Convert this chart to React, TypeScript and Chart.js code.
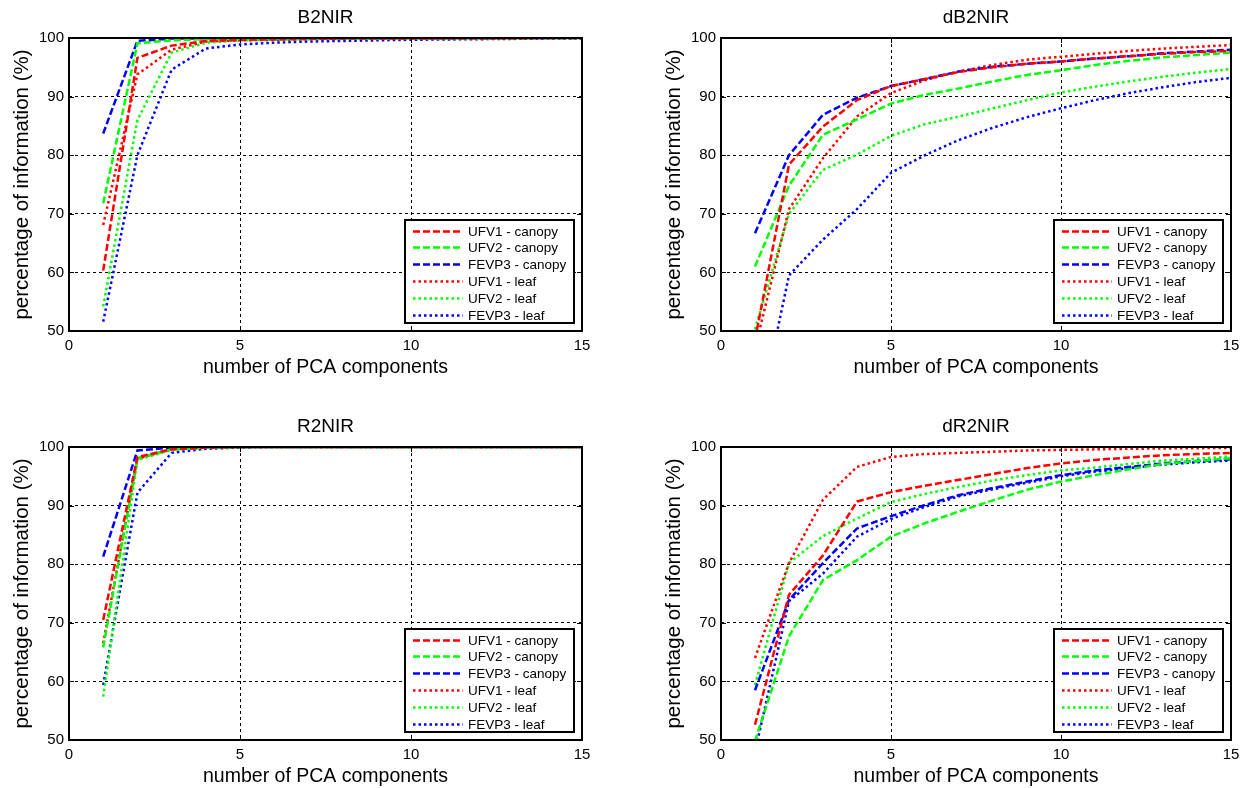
import React, { useEffect, useRef } from 'react';
import { Chart, registerables } from 'chart.js';

Chart.register(...registerables);

// ---------- data ----------
const pcaComponents = [1, 2, 3, 4, 5, 6, 7, 8, 9, 10, 11, 12, 13, 14, 15];
const seriesNames = ['UFV1 - canopy', 'UFV2 - canopy', 'FEVP3 - canopy', 'UFV1 - leaf', 'UFV2 - leaf', 'FEVP3 - leaf'];
const seriesColors = ['#ff0000', '#00ff00', '#0000ff', '#ff0000', '#00ff00', '#0000ff'];
const seriesDashed = [true, true, true, false, false, false];
const panelTitles = ['B2NIR', 'dB2NIR', 'R2NIR', 'dR2NIR'];
const xTickValues = [0, 5, 10, 15];
const yTickValues = [50, 60, 70, 80, 90, 100];
const xAxisLabel = 'number of PCA components';
const yAxisLabel = 'percentage of information (%)';

// B2NIR
const b2nirUfv1Canopy = [60.3, 96.6, 98.7, 99.5, 99.7, 99.8, 99.85, 99.9, 99.9, 99.9, 99.95, 99.95, 99.95, 100, 100];
const b2nirUfv2Canopy = [71.8, 99.1, 99.6, 99.8, 99.9, 99.9, 99.95, 99.95, 99.95, 100, 100, 100, 100, 100, 100];
const b2nirFevp3Canopy = [83.7, 99.5, 99.9, 99.95, 100, 100, 100, 100, 100, 100, 100, 100, 100, 100, 100];
const b2nirUfv1Leaf = [68.1, 93.8, 98.0, 99.4, 99.6, 99.7, 99.8, 99.85, 99.9, 99.9, 99.9, 99.95, 99.95, 100, 100];
const b2nirUfv2Leaf = [54.2, 86.0, 97.5, 99.2, 99.6, 99.7, 99.8, 99.85, 99.9, 99.9, 99.9, 99.95, 99.95, 100, 100];
const b2nirFevp3Leaf = [51.6, 80.0, 94.6, 98.2, 98.9, 99.2, 99.4, 99.5, 99.6, 99.7, 99.75, 99.8, 99.85, 99.9, 99.9];

// dB2NIR
const db2nirUfv1Canopy = [48.5, 78.4, 84.9, 89.4, 91.8, 93.0, 94.2, 95.0, 95.6, 96.0, 96.5, 96.9, 97.3, 97.6, 97.8];
const db2nirUfv2Canopy = [61.0, 74.8, 83.5, 86.1, 88.8, 90.3, 91.4, 92.6, 93.7, 94.5, 95.4, 96.1, 96.7, 97.1, 97.5];
const db2nirFevp3Canopy = [66.7, 80.0, 86.9, 89.8, 91.8, 93.0, 94.3, 95.1, 95.6, 96.0, 96.5, 96.9, 97.4, 97.7, 98.0];
const db2nirUfv1Leaf = [47.0, 70.8, 79.5, 86.6, 90.6, 92.8, 94.3, 95.4, 96.3, 96.8, 97.3, 97.8, 98.2, 98.5, 98.8];
const db2nirUfv2Leaf = [50.3, 70.0, 77.5, 80.1, 83.3, 85.3, 86.6, 88.0, 89.4, 90.7, 91.7, 92.6, 93.4, 94.1, 94.7];
const db2nirFevp3Leaf = [32.0, 59.5, 65.6, 70.8, 77.0, 80.0, 82.6, 84.7, 86.5, 88.0, 89.4, 90.6, 91.6, 92.5, 93.2];

// R2NIR
const r2nirUfv1Canopy = [70.5, 98.3, 99.6, 99.9, 100, 100, 100, 100, 100, 100, 100, 100, 100, 100, 100];
const r2nirUfv2Canopy = [65.8, 98.1, 99.6, 99.9, 100, 100, 100, 100, 100, 100, 100, 100, 100, 100, 100];
const r2nirFevp3Canopy = [81.3, 99.4, 99.9, 100, 100, 100, 100, 100, 100, 100, 100, 100, 100, 100, 100];
const r2nirUfv1Leaf = [66.5, 98.0, 99.6, 99.9, 100, 100, 100, 100, 100, 100, 100, 100, 100, 100, 100];
const r2nirUfv2Leaf = [57.4, 97.8, 99.5, 99.9, 100, 100, 100, 100, 100, 100, 100, 100, 100, 100, 100];
const r2nirFevp3Leaf = [59.4, 92.2, 99.0, 99.7, 99.9, 100, 100, 100, 100, 100, 100, 100, 100, 100, 100];

// dR2NIR
const dr2nirUfv1Canopy = [52.6, 74.8, 81.5, 90.7, 92.3, 93.4, 94.4, 95.4, 96.4, 97.2, 97.8, 98.2, 98.6, 98.8, 99.0];
const dr2nirUfv2Canopy = [49.8, 67.7, 77.3, 80.7, 84.7, 87.0, 89.0, 90.9, 92.7, 94.1, 95.2, 96.2, 97.1, 97.6, 98.1];
const dr2nirFevp3Canopy = [58.5, 73.9, 80.2, 86.1, 88.2, 90.1, 91.8, 93.0, 94.1, 95.2, 96.0, 96.6, 97.2, 97.6, 97.9];
const dr2nirUfv1Leaf = [64.0, 80.2, 91.0, 96.6, 98.3, 98.8, 99.0, 99.2, 99.4, 99.5, 99.6, 99.7, 99.75, 99.8, 99.85];
const dr2nirUfv2Leaf = [59.4, 80.2, 84.8, 87.8, 90.6, 92.0, 93.2, 94.3, 95.2, 96.0, 96.5, 97.1, 97.7, 98.0, 98.4];
const dr2nirFevp3Leaf = [48.0, 73.7, 78.4, 84.7, 87.7, 89.8, 91.6, 92.8, 93.9, 95.0, 95.8, 96.4, 97.0, 97.4, 97.7];

const panelSeries = [
  [b2nirUfv1Canopy, b2nirUfv2Canopy, b2nirFevp3Canopy, b2nirUfv1Leaf, b2nirUfv2Leaf, b2nirFevp3Leaf],
  [db2nirUfv1Canopy, db2nirUfv2Canopy, db2nirFevp3Canopy, db2nirUfv1Leaf, db2nirUfv2Leaf, db2nirFevp3Leaf],
  [r2nirUfv1Canopy, r2nirUfv2Canopy, r2nirFevp3Canopy, r2nirUfv1Leaf, r2nirUfv2Leaf, r2nirFevp3Leaf],
  [dr2nirUfv1Canopy, dr2nirUfv2Canopy, dr2nirFevp3Canopy, dr2nirUfv1Leaf, dr2nirUfv2Leaf, dr2nirFevp3Leaf],
];

// ---------- layout / style ----------
const FONT = "'Liberation Sans', Arial, Helvetica, sans-serif";
const LINE_W = 2.5;
const DASHED = [7, 3];
const DOTTED = [2.5, 3];
const panelBoxes = [
  { left: 0, top: 0, width: 627, height: 379, padRight: 45 },
  { left: 652, top: 0, width: 602, height: 379, padRight: 23 },
  { left: 0, top: 409, width: 627, height: 379, padRight: 45 },
  { left: 652, top: 409, width: 602, height: 379, padRight: 23 },
];

const framePlugin = {
  id: 'matlabFrame',
  afterDraw(chart: any, _args: any, opts: any) {
    const { ctx, chartArea: ca, scales } = chart;
    ctx.save();
    // inward ticks
    ctx.strokeStyle = '#000';
    ctx.lineWidth = 1;
    ctx.setLineDash([]);
    const tl = 5;
    xTickValues.forEach((v) => {
      const px = Math.round(scales.x.getPixelForValue(v)) + 0.5;
      ctx.beginPath();
      ctx.moveTo(px, ca.bottom); ctx.lineTo(px, ca.bottom - tl);
      ctx.moveTo(px, ca.top); ctx.lineTo(px, ca.top + tl);
      ctx.stroke();
    });
    yTickValues.forEach((v) => {
      const py = Math.round(scales.y.getPixelForValue(v)) + 0.5;
      ctx.beginPath();
      ctx.moveTo(ca.left, py); ctx.lineTo(ca.left + tl, py);
      ctx.moveTo(ca.right, py); ctx.lineTo(ca.right - tl, py);
      ctx.stroke();
    });
    // box
    ctx.lineWidth = 2;
    ctx.strokeRect(ca.left, ca.top, ca.right - ca.left, ca.bottom - ca.top);
    // title
    ctx.fillStyle = '#000';
    ctx.font = `19px ${FONT}`;
    ctx.textAlign = 'center';
    ctx.textBaseline = 'middle';
    ctx.fillText(opts.title, (ca.left + ca.right) / 2, ca.top - 20);
    // legend
    const bw = 169, bh = 103;
    const bx = ca.right - 8 - bw;
    const by = ca.bottom - 8 - bh;
    ctx.fillStyle = '#fff';
    ctx.fillRect(bx, by, bw, bh);
    ctx.lineWidth = 2;
    ctx.strokeStyle = '#000';
    ctx.strokeRect(bx, by, bw, bh);
    ctx.font = `13.5px ${FONT}`;
    ctx.textAlign = 'left';
    ctx.textBaseline = 'middle';
    seriesNames.forEach((name, i) => {
      const y = Math.round(by + 10.5 + i * 16.8) + 0.5;
      ctx.beginPath();
      ctx.strokeStyle = seriesColors[i];
      ctx.lineWidth = LINE_W;
      ctx.setLineDash(seriesDashed[i] ? DASHED : DOTTED);
      ctx.moveTo(bx + 8, y);
      ctx.lineTo(bx + 58, y);
      ctx.stroke();
      ctx.setLineDash([]);
      ctx.fillStyle = '#000';
      ctx.fillText(name, bx + 63, y + 1);
    });
    ctx.restore();
  },
};

function Panel({ index }: { index: number }) {
  const ref = useRef<HTMLCanvasElement | null>(null);
  const box = panelBoxes[index];
  useEffect(() => {
    if (!ref.current) return;
    const datasets = panelSeries[index].map((values, i) => ({
      label: seriesNames[i],
      data: pcaComponents.map((x, k) => ({ x, y: values[k] })),
      borderColor: seriesColors[i],
      backgroundColor: seriesColors[i],
      borderWidth: LINE_W,
      borderDash: seriesDashed[i] ? DASHED : DOTTED,
      pointRadius: 0,
      tension: 0,
      fill: false,
    }));
    const chart = new Chart(ref.current, {
      type: 'line',
      data: { datasets },
      plugins: [framePlugin],
      options: {
        responsive: false,
        animation: false,
        devicePixelRatio: 1,
        layout: { padding: { top: 38, right: box.padRight, bottom: 0, left: 0 } },
        plugins: {
          legend: { display: false },
          tooltip: { enabled: false },
          title: { display: false },
          matlabFrame: { title: panelTitles[index] },
        } as any,
        scales: {
          x: {
            type: 'linear',
            min: 0,
            max: 15,
            afterBuildTicks: (s: any) => { s.ticks = xTickValues.map((v) => ({ value: v })); },
            ticks: { color: '#000', font: { family: FONT, size: 15 }, padding: 6, maxRotation: 0 },
            grid: { color: '#000', lineWidth: 1, drawTicks: false },
            border: { display: false, dash: [3, 3] },
            title: { display: true, text: xAxisLabel, color: '#000', font: { family: FONT, size: 19.5 }, padding: 0 },
            afterFit: (s: any) => { s.height = 48; },
          },
          y: {
            type: 'linear',
            min: 50,
            max: 100,
            afterBuildTicks: (s: any) => { s.ticks = yTickValues.map((v) => ({ value: v })); },
            ticks: { color: '#000', font: { family: FONT, size: 15 }, padding: 5 },
            grid: { color: '#000', lineWidth: 1, drawTicks: false },
            border: { display: false, dash: [3, 3] },
            title: { display: true, text: yAxisLabel, color: '#000', font: { family: FONT, size: 20.5 }, padding: { top: 10, bottom: 0 } },
            afterFit: (s: any) => { s.width = 69; },
          },
        },
      } as any,
    });
    return () => chart.destroy();
  }, [index]);
  return (
    <canvas
      ref={ref}
      width={box.width}
      height={box.height}
      style={{ position: 'absolute', left: box.left, top: box.top, width: box.width, height: box.height }}
    />
  );
}

export default function App() {
  return (
    <div style={{ position: 'absolute', left: 0, top: 0, width: 1254, height: 788, background: '#fff', overflow: 'hidden' }}>
      {[0, 1, 2, 3].map((i) => (
        <Panel key={i} index={i} />
      ))}
    </div>
  );
}
